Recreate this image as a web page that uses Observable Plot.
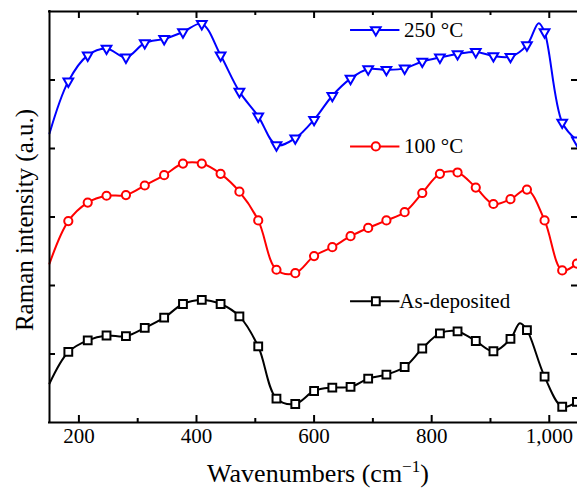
<!DOCTYPE html>
<html>
<head>
<meta charset="utf-8">
<script src="https://cdn.jsdelivr.net/npm/d3@7"></script>
<script src="https://cdn.jsdelivr.net/npm/@observablehq/plot@0.6"></script>
<style>
  body { margin: 0; background: #fff; }
  #chart svg { display: block; }
</style>
</head>
<body>
<div id="chart"></div>
<script>
// Raman spectra of the films: symbols are sampled every ~31 cm-1
const wavenumbers = [182, 215, 247, 280, 312, 345, 377, 409, 441, 473, 505, 536, 568, 600, 631,
                     662, 692, 723, 754, 784, 814, 844, 875, 905, 934, 962, 992, 1022, 1047];
const asDeposited = [1.03, 1.20, 1.27, 1.26, 1.38, 1.53, 1.73, 1.79, 1.73, 1.55, 1.11, 0.35, 0.27, 0.46, 0.51,
                     0.52, 0.64, 0.70, 0.81, 1.08, 1.30, 1.33, 1.19, 1.04, 1.22, 1.35, 0.67, 0.23, 0.30];
const anneal100   = [2.94, 3.21, 3.31, 3.32, 3.46, 3.61, 3.78, 3.78, 3.63, 3.37, 2.95, 2.23, 2.18, 2.43, 2.56,
                     2.72, 2.84, 2.95, 3.07, 3.35, 3.63, 3.65, 3.43, 3.19, 3.26, 3.40, 2.95, 2.22, 2.32];
const anneal250   = [4.98, 5.36, 5.46, 5.33, 5.54, 5.60, 5.70, 5.82, 5.36, 4.83, 4.47, 4.05, 4.15, 4.42, 4.77,
                     5.02, 5.16, 5.15, 5.17, 5.27, 5.33, 5.38, 5.41, 5.35, 5.34, 5.51, 5.70, 4.38, 4.12];

// extra trace points without a symbol (spectrum start and sharp peaks)
const asDepositedTrace = [[150, 0.57], [950, 1.45]];
const anneal100Trace   = [[150, 2.32]];
const anneal250Trace   = [[150, 4.22], [982, 5.83]];

const seriesNames = ["250 °C", "100 °C", "As-deposited"];
const xMajorTicks = [200, 400, 600, 800, 1000];
const xMinorTicks = [300, 500, 700, 900];
const yTicks = [1, 2, 3, 4, 5];

// downward-pointing triangle symbol
const sqrt3 = Math.sqrt(3);
const triangleDown = {
  draw(context, size) {
    const y = -Math.sqrt(size / (sqrt3 * 3));
    context.moveTo(0, -y * 2);
    context.lineTo(-sqrt3 * y, y);
    context.lineTo(sqrt3 * y, y);
    context.closePath();
  }
};

const series = [
  {name: seriesNames[0], values: anneal250, trace: anneal250Trace, color: "#0000ff", symbol: triangleDown, r: 3.6},
  {name: seriesNames[1], values: anneal100, trace: anneal100Trace, color: "#ff0000", symbol: "circle", r: 4.1},
  {name: seriesNames[2], values: asDeposited, trace: asDepositedTrace, color: "#000000", symbol: "square", r: 4.4}
];

const markerRows = s => wavenumbers.map((w, i) => ({w, v: s.values[i]}));
const traceRows = s => markerRows(s)
  .concat(s.trace.map(([w, v]) => ({w, v})))
  .sort((a, b) => a.w - b.w);

// inline legend placement (wavenumber / intensity units)
const legendLayout = {x1: 662, x2: 746, xMark: 705, xText: [753, 753, 745], y: [5.73, 4.03, 1.77]};

const W = 577, H = 488;
const mTop = 11, mBottom = 66, mLeft = 49, mRight = 0;
const frameH = H - mTop - mBottom, frameW = W - mLeft - mRight;

const marks = [];

series.forEach((s, i) => {
  marks.push(Plot.line(traceRows(s), {x: "w", y: "v", curve: "catmull-rom", stroke: s.color, strokeWidth: 2}));
  marks.push(Plot.dot(markerRows(s), {x: "w", y: "v", symbol: s.symbol, r: s.r, stroke: s.color, fill: "white", strokeWidth: 2}));
  // legend entry
  const ly = legendLayout.y[i];
  marks.push(Plot.ruleY([ly], {x1: legendLayout.x1, x2: legendLayout.x2, stroke: s.color, strokeWidth: 2}));
  marks.push(Plot.dot([ly], {x: legendLayout.xMark, y: d => d, symbol: s.symbol, r: s.r, stroke: s.color, fill: "white", strokeWidth: 2}));
  marks.push(Plot.text([s.name], {x: legendLayout.xText[i], y: ly, text: d => d, textAnchor: "start", fontSize: 21, fill: "black"}));
});

// frame: top, bottom and left edges
marks.push(Plot.ruleY([0, 6], {stroke: "black", strokeWidth: 2, strokeLinecap: "square"}));
marks.push(Plot.ruleX([150], {stroke: "black", strokeWidth: 2, strokeLinecap: "square"}));

// inward ticks
marks.push(Plot.tickX(xMajorTicks, {x: d => d, insetTop: frameH - 7, strokeWidth: 2}));
marks.push(Plot.tickX(xMinorTicks, {x: d => d, insetTop: frameH - 4, strokeWidth: 2}));
marks.push(Plot.tickX(xMajorTicks, {x: d => d, insetBottom: frameH - 7, strokeWidth: 2}));
marks.push(Plot.tickX(xMinorTicks, {x: d => d, insetBottom: frameH - 4, strokeWidth: 2}));
marks.push(Plot.tickY(yTicks, {y: d => d, insetRight: frameW - 6, strokeWidth: 2}));
marks.push(Plot.tickY(yTicks, {y: d => d, insetLeft: frameW - 6, strokeWidth: 2}));

// tick labels
marks.push(Plot.text(xMajorTicks, {x: d => d, frameAnchor: "bottom", dy: 20, text: d3.format(","), fontSize: 21, fill: "black"}));

// y title
marks.push(Plot.text(["Raman intensity (a.u.)"], {frameAnchor: "left", dx: -25, dy: 3, rotate: -90, textAnchor: "middle", text: d => d, fontSize: 25, fill: "black"}));

const chart = Plot.plot({
  width: W,
  height: H,
  marginTop: mTop,
  marginBottom: mBottom,
  marginLeft: mLeft,
  marginRight: mRight,
  x: {domain: [150, 1048], axis: null},
  y: {domain: [0, 6], axis: null},
  style: {fontFamily: "'Liberation Serif', 'Times New Roman', serif", background: "white", color: "black", overflow: "hidden"},
  marks
});

// x title with superscript
const title = d3.select(chart).append("text")
  .attr("x", 318).attr("y", 482)
  .attr("text-anchor", "middle")
  .attr("font-size", 26)
  .attr("fill", "black");
title.append("tspan").text("Wavenumbers (cm");
title.append("tspan").attr("font-size", 17).attr("dy", -10).text("−1");
title.append("tspan").attr("dy", 10).text(")");

document.getElementById("chart").append(chart);
</script>
</body>
</html>
